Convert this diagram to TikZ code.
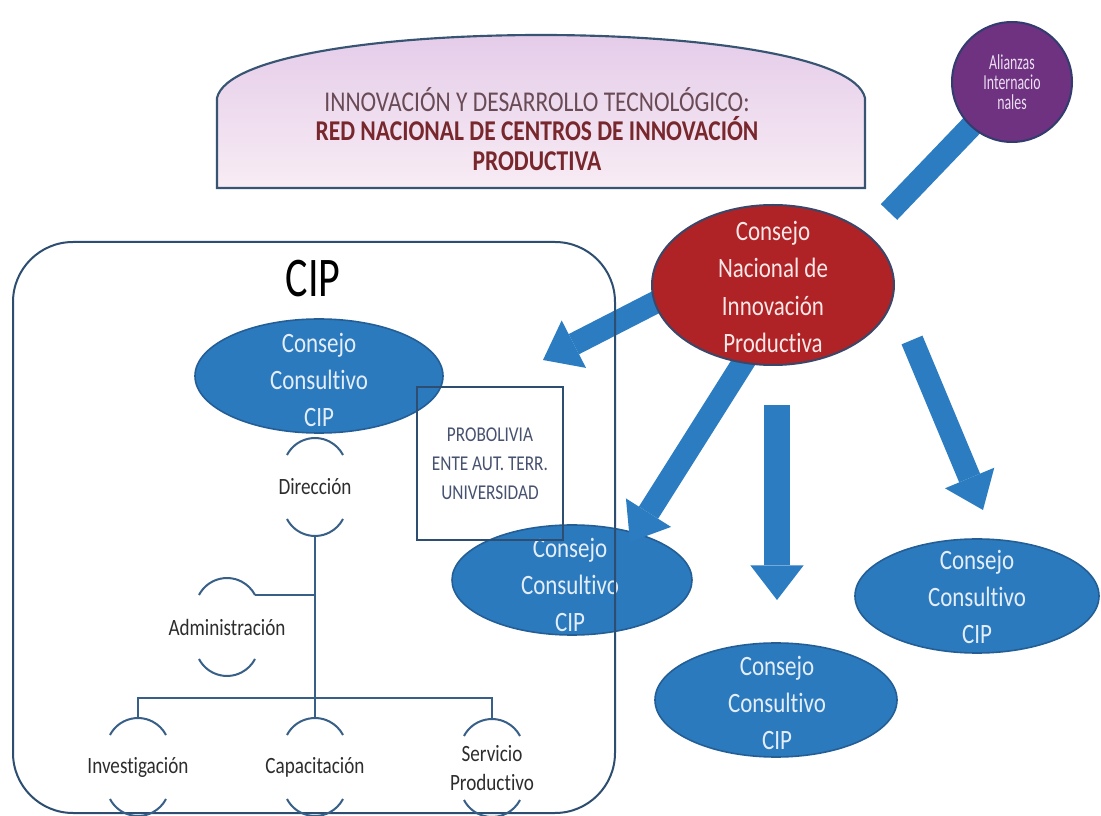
\documentclass[tikz,border=0pt]{standalone}
\usepackage{fontspec}
\setmainfont{Carlito}[FakeStretch=0.82,Ligatures=NoCommon]
\newfontfamily\titlefont{Carlito}[FakeStretch=0.75]
\newfontfamily\narrowfont{Carlito}[FakeStretch=0.65]
\usetikzlibrary{arrows.meta,shapes.geometric,calc}
\definecolor{cblue}{RGB}{44,122,190}
\definecolor{cbluedark}{RGB}{35,95,150}
\definecolor{carrow}{RGB}{44,124,194}
\definecolor{cred}{RGB}{175,35,38}
\definecolor{credline}{RGB}{60,70,105}
\definecolor{cpurple}{RGB}{110,50,128}
\definecolor{cpurpleline}{RGB}{50,60,110}
\definecolor{ctextlight}{RGB}{228,238,250}
\definecolor{credtext}{RGB}{250,232,232}
\definecolor{cframe}{RGB}{45,78,112}
\definecolor{corg}{RGB}{55,95,135}
\definecolor{cdark}{RGB}{45,45,45}
\definecolor{cprob}{RGB}{70,82,112}
\definecolor{banTop}{RGB}{226,200,232}
\definecolor{banBot}{RGB}{248,236,244}
\definecolor{banLine}{RGB}{55,85,115}
\definecolor{banTextA}{RGB}{105,75,85}
\definecolor{banTextB}{RGB}{120,40,45}
\definecolor{alitext}{RGB}{235,222,242}
\newcommand{\orgarcs}[1]{%
  \draw[orgline] ($(#1)+(-28,-32)$) arc[start angle=207.6,end angle=332.4,radius=31.6];
  \draw[orgline] ($(#1)+(-28,32)$) arc[start angle=152.4,end angle=27.6,radius=31.6];}
\begin{document}
\begin{tikzpicture}[x=0.75pt,y=-0.75pt,
  bell/.style={ellipse,draw=cbluedark,line width=1.2pt,fill=cblue,inner sep=0pt},
  celtext/.style={text=ctextlight,align=center,font=\fontsize{21}{28}\selectfont},
  bigarrow/.style={draw=carrow,line width=17pt,-{Triangle[length=26pt,width=40pt,line width=0pt]}},
  orgline/.style={draw=corg,line width=1.5pt},
  orgtext/.style={text=cdark,align=center,font=\fontsize{17.5}{22}\selectfont}]
\useasboundingbox (0,0) rectangle (1101,816);
\fill[white] (0,0) rectangle (1101,816);
% banner
\shade[top color=banTop,bottom color=banBot] (217,188) -- (217,98) .. controls (236,14) and (846,14) .. (865,98) -- (865,188) -- cycle;
\draw[banLine,line width=1.6pt] (217,188) -- (217,98) .. controls (236,14) and (846,14) .. (865,98) -- (865,188) -- cycle;
\node[align=center,font=\fontsize{21.5}{22}\selectfont] (bantext) at (537,129)
  {\textcolor{banTextA}{INNOVACIÓN Y DESARROLLO TECNOLÓGICO:}\\
   \textcolor{banTextB}{\bfseries RED NACIONAL DE CENTROS DE INNOVACIÓN}\\
   \textcolor{banTextB}{\bfseries PRODUCTIVA}};
% blue ellipses
\node[bell,minimum width=186pt,minimum height=85.5pt] (cc1) at (319,376) {};
\node[bell,minimum width=180pt,minimum height=82.5pt] (cc2) at (572,580) {};
\node[bell,minimum width=181.5pt,minimum height=85.5pt] (cc3) at (776,700) {};
\node[bell,minimum width=183pt,minimum height=85.5pt] (cc4) at (977,596) {};
% arrows
\coordinate (a1s) at (660,300); \coordinate (a1e) at (543,360);
\coordinate (a2s) at (748,355); \coordinate (a2e) at (630,542);
\coordinate (a3s) at (777,405); \coordinate (a3e) at (777,600);
\coordinate (a4s) at (912,340); \coordinate (a4e) at (983,510);
\coordinate (a5s) at (889,212); \coordinate (a5e) at (1004,92);
\draw[bigarrow] (a1s) -- (a1e);
\draw[bigarrow] (a2s) -- (a2e);
\draw[bigarrow,line width=20pt] (a3s) -- (a3e);
\draw[bigarrow] (a4s) -- (a4e);
\draw[bigarrow] (a5s) -- (a5e);
% red ellipse
\node[ellipse,draw=credline,line width=1.5pt,fill=cred,inner sep=0pt,minimum width=181.5pt,minimum height=120pt] (cnip) at (773,285) {};
\node[celtext,text=credtext] (cniptext) at (773,287) {Consejo\\Nacional de\\Innovación\\Productiva};
% alianzas
\node[circle,fill=cpurple,draw=cpurpleline,line width=1.5pt,minimum size=90pt,inner sep=0pt] (ali) at (1012,82) {};
\node[text=alitext,align=center,font=\narrowfont\fontsize{16}{15}\selectfont] (alit) at (1012,82) {Alianzas\\Internacio\\nales};
% ellipse texts
\node[celtext] (cc1t) at (319,380) {Consejo\\Consultivo\\CIP};
\node[celtext] (cc2t) at (570,585) {Consejo\\Consultivo\\CIP};
\node[celtext] (cc3t) at (777,703) {Consejo\\Consultivo\\CIP};
\node[celtext] (cc4t) at (977,597) {Consejo\\Consultivo\\CIP};
% probolivia box
\node[draw=cframe,line width=1.5pt,minimum width=109.5pt,minimum height=114.75pt,align=center,text=cprob,font=\fontsize{15.8}{21.75}\selectfont] (prob) at (490,463.5) {PROBOLIVIA\\ENTE AUT. TERR.\\UNIVERSIDAD};
% CIP frame
\node[draw=cframe,line width=1.5pt,rounded corners=45pt,minimum width=451.5pt,minimum height=428.25pt] (cipbox) at (314,527.5) {};
\node[anchor=base,font=\titlefont\fontsize{42}{42}\selectfont] (ciptitle) at (313,297) {CIP};
% org chart
\node[orgtext] (dir) at (315,487) {Dirección};
\node[orgtext] (adm) at (227,627) {Administración};
\node[orgtext] (inv) at (138,767) {Investigación};
\node[orgtext] (cap) at (315,767) {Capacitación};
\node[orgtext] (ser) at (492,768) {Servicio\\Productivo};
\orgarcs{dir}
\orgarcs{adm}
\orgarcs{inv}
\orgarcs{cap}
\orgarcs{ser}
\draw[orgline] ($(dir)+(0,49)$) -- ($(cap)+(0,-49)$);
\coordinate (admR) at ($(adm)+(28,-32)$);
\draw[orgline] (admR) -- (admR -| dir);
\coordinate (bus) at ($(cap)+(0,-69)$);
\draw[orgline] ($(inv)+(0,-49)$) -- (inv |- bus) -- (ser |- bus) -- ($(ser)+(0,-50)$);
\end{tikzpicture}
\end{document}
